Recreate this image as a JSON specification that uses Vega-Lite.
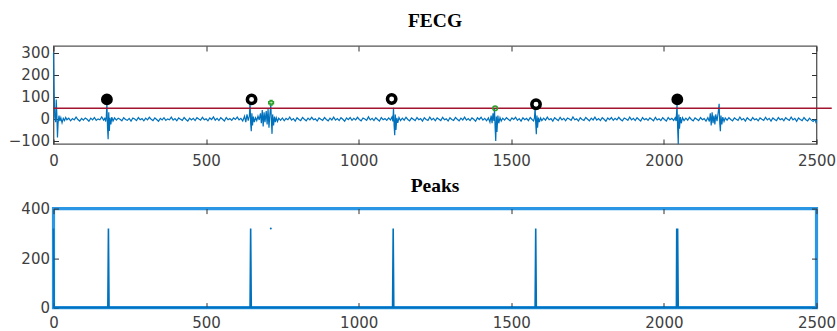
{
"$schema": "https://vega.github.io/schema/vega-lite/v6.json",
"background": "white",
"padding": {"left": 7.5, "top": 10, "right": 2, "bottom": 2},
"config": {
  "font": "DejaVu Sans",
  "axis": {"labelFont": "DejaVu Sans", "labelFontSize": 15, "labelColor": "#404040", "tickColor": "#303030", "tickSize": 5, "offset": -5, "tickWidth": 1, "domain": false, "grid": false, "title": null, "labelPadding": 4, "format": "d", "labelFlush": false},
  "title": {"font": "Liberation Serif", "fontSize": 19.5, "fontWeight": "bold", "color": "#000000", "frame": "group", "anchor": "middle"}
},
"datasets": {
  "fecg": [
{"t":0,"v":300},{"t":2,"v":120},{"t":4,"v":10},{"t":7,"v":-15},{"t":9,"v":88},{"t":11,"v":20},{"t":13,"v":-85},{"t":15,"v":-20},{"t":18,"v":15},{"t":21,"v":-10},{"t":24,"v":5},{"t":28,"v":-18},{"t":32,"v":2},{"t":36,"v":-8},{"t":40,"v":6},
{"t":44,"v":-4},{"t":50,"v":3},{"t":56,"v":-9},{"t":62,"v":1},{"t":68,"v":-5},{"t":74,"v":8},{"t":80,"v":-3},{"t":86,"v":-10},{"t":92,"v":2},{"t":98,"v":-6},{"t":104,"v":4},{"t":110,"v":-2},{"t":116,"v":-11},{"t":122,"v":3},{"t":128,"v":-5},{"t":134,"v":6},{"t":140,"v":-7},{"t":146,"v":0},{"t":152,"v":-4},{"t":158,"v":9},{"t":164,"v":-6},{"t":168,"v":2},
{"t":171,"v":-12},{"t":173,"v":10},{"t":175,"v":73},{"t":177,"v":-40},{"t":179,"v":-92},{"t":181,"v":30},{"t":183,"v":-55},{"t":185,"v":5},{"t":188,"v":-25},{"t":191,"v":8},{"t":195,"v":-10},{"t":200,"v":4},
{"t":206,"v":-6},{"t":212,"v":3},{"t":218,"v":-2},{"t":224,"v":-9},{"t":230,"v":5},{"t":236,"v":-3},{"t":242,"v":-7},{"t":248,"v":2},{"t":254,"v":-10},{"t":260,"v":4},{"t":266,"v":-1},{"t":272,"v":-8},{"t":278,"v":6},{"t":284,"v":-4},{"t":290,"v":1},{"t":296,"v":-9},{"t":302,"v":3},{"t":308,"v":-5},{"t":314,"v":7},{"t":320,"v":-2},{"t":326,"v":-8},{"t":332,"v":4},{"t":338,"v":-3},{"t":344,"v":-11},{"t":350,"v":2},{"t":356,"v":-5},{"t":362,"v":5},{"t":368,"v":-7},{"t":374,"v":0},{"t":380,"v":-4},{"t":386,"v":8},{"t":392,"v":-6},{"t":398,"v":1},{"t":404,"v":-9},{"t":410,"v":4},{"t":416,"v":-2},{"t":422,"v":-7},{"t":428,"v":6},{"t":434,"v":-3},{"t":440,"v":-10},{"t":446,"v":3},{"t":452,"v":-5},{"t":458,"v":2},{"t":464,"v":-8},{"t":470,"v":5},{"t":476,"v":-1},{"t":482,"v":-6},{"t":488,"v":7},{"t":494,"v":-4},{"t":500,"v":0},{"t":506,"v":-9},{"t":512,"v":4},{"t":518,"v":-3},{"t":524,"v":9},{"t":530,"v":-6},{"t":536,"v":2},{"t":542,"v":-8},{"t":548,"v":5},{"t":554,"v":-2},{"t":560,"v":-10},{"t":566,"v":6},{"t":572,"v":-4},{"t":578,"v":1},{"t":584,"v":-7},{"t":590,"v":4},{"t":596,"v":-3},{"t":602,"v":8},{"t":608,"v":-5},{"t":614,"v":2},
{"t":620,"v":-10},{"t":626,"v":12},{"t":630,"v":-15},{"t":634,"v":20},{"t":638,"v":-8},{"t":642,"v":15},{"t":644,"v":80},{"t":646,"v":-20},{"t":648,"v":-56},{"t":650,"v":25},{"t":652,"v":-30},{"t":655,"v":10},{"t":658,"v":-15},{"t":662,"v":5},{"t":666,"v":-8},{"t":670,"v":12},{"t":674,"v":-5},{"t":678,"v":25},{"t":681,"v":-20},{"t":684,"v":40},{"t":687,"v":-35},{"t":690,"v":30},{"t":693,"v":-15},{"t":697,"v":35},{"t":700,"v":-25},{"t":703,"v":45},{"t":706,"v":-40},{"t":709,"v":20},{"t":712,"v":65},{"t":714,"v":-10},{"t":716,"v":-68},{"t":718,"v":20},{"t":721,"v":-30},{"t":724,"v":10},{"t":727,"v":-15},{"t":730,"v":5},{"t":734,"v":-12},{"t":738,"v":3},
{"t":744,"v":-7},{"t":750,"v":4},{"t":756,"v":-9},{"t":762,"v":2},{"t":768,"v":-4},{"t":774,"v":8},{"t":780,"v":-6},{"t":786,"v":1},{"t":792,"v":-10},{"t":798,"v":5},{"t":804,"v":-3},{"t":810,"v":-8},{"t":816,"v":6},{"t":822,"v":-2},{"t":828,"v":-9},{"t":834,"v":3},{"t":840,"v":-5},{"t":846,"v":7},{"t":852,"v":-4},{"t":858,"v":0},{"t":864,"v":-10},{"t":870,"v":4},{"t":876,"v":-2},{"t":882,"v":-7},{"t":888,"v":6},{"t":894,"v":-3},{"t":900,"v":-9},{"t":906,"v":3},{"t":912,"v":-5},{"t":918,"v":8},{"t":924,"v":-6},{"t":930,"v":1},{"t":936,"v":-8},{"t":942,"v":5},{"t":948,"v":-2},{"t":954,"v":-11},{"t":960,"v":4},{"t":966,"v":-4},{"t":972,"v":6},{"t":978,"v":-7},{"t":984,"v":2},{"t":990,"v":-5},{"t":996,"v":7},{"t":1002,"v":-3},{"t":1008,"v":-9},{"t":1014,"v":4},{"t":1020,"v":-1},{"t":1026,"v":-7},{"t":1032,"v":9},{"t":1038,"v":-5},{"t":1044,"v":2},{"t":1050,"v":-8},{"t":1056,"v":5},{"t":1062,"v":-3},{"t":1068,"v":-10},{"t":1074,"v":6},{"t":1080,"v":-4},{"t":1086,"v":1},{"t":1092,"v":-7},{"t":1098,"v":4},{"t":1104,"v":-5},{"t":1109,"v":8},
{"t":1112,"v":-12},{"t":1114,"v":50},{"t":1116,"v":-30},{"t":1118,"v":-74},{"t":1120,"v":20},{"t":1122,"v":-50},{"t":1125,"v":5},{"t":1128,"v":-18},{"t":1132,"v":6},{"t":1137,"v":-8},
{"t":1143,"v":3},{"t":1149,"v":-6},{"t":1155,"v":7},{"t":1161,"v":-3},{"t":1167,"v":-9},{"t":1173,"v":4},{"t":1179,"v":-2},{"t":1185,"v":-8},{"t":1191,"v":6},{"t":1197,"v":-4},{"t":1203,"v":1},{"t":1209,"v":-10},{"t":1215,"v":5},{"t":1221,"v":-3},{"t":1227,"v":-7},{"t":1233,"v":8},{"t":1239,"v":-5},{"t":1245,"v":2},{"t":1251,"v":-9},{"t":1257,"v":4},{"t":1263,"v":-2},{"t":1269,"v":-8},{"t":1275,"v":7},{"t":1281,"v":-4},{"t":1287,"v":0},{"t":1293,"v":-10},{"t":1299,"v":5},{"t":1305,"v":-3},{"t":1311,"v":-7},{"t":1317,"v":6},{"t":1323,"v":-2},{"t":1329,"v":-9},{"t":1335,"v":3},{"t":1341,"v":-5},{"t":1347,"v":8},{"t":1353,"v":-6},{"t":1359,"v":1},{"t":1365,"v":-8},{"t":1371,"v":4},{"t":1377,"v":-2},{"t":1383,"v":-11},{"t":1389,"v":5},{"t":1395,"v":-3},{"t":1401,"v":7},{"t":1407,"v":-6},{"t":1413,"v":2},{"t":1419,"v":-9},{"t":1425,"v":4},
{"t":1430,"v":-15},{"t":1434,"v":15},{"t":1437,"v":-20},{"t":1440,"v":25},{"t":1443,"v":-10},{"t":1445,"v":45},{"t":1447,"v":-40},{"t":1449,"v":-100},{"t":1451,"v":10},{"t":1453,"v":-60},{"t":1456,"v":15},{"t":1459,"v":-20},{"t":1463,"v":5},{"t":1467,"v":-10},{"t":1472,"v":3},
{"t":1478,"v":-6},{"t":1484,"v":5},{"t":1490,"v":-2},{"t":1496,"v":-9},{"t":1502,"v":4},{"t":1508,"v":-3},{"t":1514,"v":7},{"t":1520,"v":-7},{"t":1526,"v":1},{"t":1532,"v":-10},{"t":1538,"v":5},{"t":1544,"v":-4},{"t":1550,"v":2},{"t":1556,"v":-8},{"t":1562,"v":6},{"t":1568,"v":-3},{"t":1573,"v":-9},
{"t":1576,"v":5},{"t":1578,"v":52},{"t":1580,"v":-20},{"t":1582,"v":-70},{"t":1584,"v":15},{"t":1586,"v":-40},{"t":1589,"v":6},{"t":1592,"v":-15},{"t":1596,"v":4},{"t":1600,"v":-8},
{"t":1606,"v":3},{"t":1612,"v":-6},{"t":1618,"v":8},{"t":1624,"v":-4},{"t":1630,"v":1},{"t":1636,"v":-10},{"t":1642,"v":5},{"t":1648,"v":-2},{"t":1654,"v":-8},{"t":1660,"v":7},{"t":1666,"v":-5},{"t":1672,"v":2},{"t":1678,"v":-9},{"t":1684,"v":4},{"t":1690,"v":-1},{"t":1696,"v":-7},{"t":1702,"v":9},{"t":1708,"v":-4},{"t":1714,"v":0},{"t":1720,"v":-10},{"t":1726,"v":5},{"t":1732,"v":-3},{"t":1738,"v":-7},{"t":1744,"v":6},{"t":1750,"v":-2},{"t":1756,"v":-9},{"t":1762,"v":3},{"t":1768,"v":-5},{"t":1774,"v":8},{"t":1780,"v":-6},{"t":1786,"v":1},{"t":1792,"v":-8},{"t":1798,"v":5},{"t":1804,"v":-2},{"t":1810,"v":-11},{"t":1816,"v":4},{"t":1822,"v":-4},{"t":1828,"v":6},{"t":1834,"v":-7},{"t":1840,"v":2},{"t":1846,"v":-5},{"t":1852,"v":7},{"t":1858,"v":-3},{"t":1864,"v":-9},{"t":1870,"v":4},{"t":1876,"v":-1},{"t":1882,"v":-7},{"t":1888,"v":8},{"t":1894,"v":-5},{"t":1900,"v":2},{"t":1906,"v":-8},{"t":1912,"v":5},{"t":1918,"v":-3},{"t":1924,"v":-10},{"t":1930,"v":6},{"t":1936,"v":-4},{"t":1942,"v":1},{"t":1948,"v":-7},{"t":1954,"v":4},{"t":1960,"v":-2},{"t":1966,"v":-9},{"t":1972,"v":7},{"t":1978,"v":-5},{"t":1984,"v":0},{"t":1990,"v":-8},{"t":1996,"v":5},{"t":2002,"v":-3},{"t":2008,"v":-10},{"t":2014,"v":6},{"t":2020,"v":-4},{"t":2026,"v":2},{"t":2032,"v":-7},{"t":2037,"v":5},
{"t":2040,"v":-10},{"t":2043,"v":65},{"t":2045,"v":-40},{"t":2047,"v":-115},{"t":2049,"v":20},{"t":2051,"v":-45},{"t":2054,"v":8},{"t":2057,"v":-20},{"t":2061,"v":5},{"t":2066,"v":-8},
{"t":2072,"v":3},{"t":2078,"v":-6},{"t":2084,"v":7},{"t":2090,"v":-3},{"t":2096,"v":-9},{"t":2102,"v":4},{"t":2108,"v":-2},{"t":2114,"v":-8},{"t":2120,"v":6},{"t":2126,"v":-4},{"t":2132,"v":1},{"t":2138,"v":-10},{"t":2144,"v":5},
{"t":2149,"v":-12},{"t":2152,"v":25},{"t":2155,"v":-30},{"t":2158,"v":30},{"t":2161,"v":-20},{"t":2164,"v":15},{"t":2167,"v":-25},{"t":2170,"v":20},{"t":2174,"v":-10},{"t":2178,"v":30},{"t":2181,"v":68},{"t":2183,"v":-20},{"t":2185,"v":-56},{"t":2187,"v":15},{"t":2190,"v":-25},{"t":2193,"v":8},{"t":2197,"v":-12},{"t":2201,"v":4},
{"t":2207,"v":-6},{"t":2213,"v":5},{"t":2219,"v":-3},{"t":2225,"v":-9},{"t":2231,"v":4},{"t":2237,"v":-2},{"t":2243,"v":-7},{"t":2249,"v":8},{"t":2255,"v":-5},{"t":2261,"v":1},{"t":2267,"v":-10},{"t":2273,"v":5},{"t":2279,"v":-3},{"t":2285,"v":-8},{"t":2291,"v":6},{"t":2297,"v":-4},{"t":2303,"v":0},{"t":2309,"v":-9},{"t":2315,"v":4},{"t":2321,"v":-2},{"t":2327,"v":-7},{"t":2333,"v":7},{"t":2339,"v":-5},{"t":2345,"v":2},{"t":2351,"v":-10},{"t":2357,"v":4},{"t":2363,"v":-3},{"t":2369,"v":-8},{"t":2375,"v":6},{"t":2381,"v":-4},{"t":2387,"v":1},{"t":2393,"v":-9},{"t":2399,"v":5},{"t":2405,"v":-2},{"t":2411,"v":-7},{"t":2417,"v":8},{"t":2423,"v":-5},{"t":2429,"v":2},{"t":2435,"v":-11},{"t":2441,"v":4},{"t":2447,"v":-3},{"t":2453,"v":-8},{"t":2459,"v":6},{"t":2465,"v":-4},{"t":2471,"v":-9},{"t":2477,"v":3},{"t":2483,"v":-6},{"t":2489,"v":-12},{"t":2494,"v":-4},{"t":2497,"v":-10},{"t":2499,"v":-20},{"t":2500,"v":-5}
  ],
  "threshold": [{"t0": 0, "t1": 2550, "v": 48}],
  "detected": [
    {"t": 175, "v": 88, "kind": "strong"},
    {"t": 649, "v": 88, "kind": "weak"},
    {"t": 1108, "v": 90, "kind": "weak"},
    {"t": 1581, "v": 66, "kind": "weak"},
    {"t": 2044, "v": 88, "kind": "strong"}
  ],
  "candidates": [
    {"t": 713, "v": 73, "kind": "plus"},
    {"t": 1447, "v": 48, "kind": "circle"}
  ],
  "peaks": [
    {"t": 0, "v": 320}, {"t": 2, "v": 0}, {"t": 178, "v": 0}, {"t": 180, "v": 320}, {"t": 182, "v": 0},
    {"t": 644, "v": 0}, {"t": 646, "v": 320}, {"t": 648, "v": 0},
    {"t": 1111, "v": 0}, {"t": 1113, "v": 320}, {"t": 1115, "v": 0},
    {"t": 1578, "v": 0}, {"t": 1580, "v": 320}, {"t": 1582, "v": 0},
    {"t": 2041, "v": 0}, {"t": 2042, "v": 320}, {"t": 2044, "v": 0}, {"t": 2045, "v": 320}, {"t": 2047, "v": 0},
    {"t": 2500, "v": 0}
  ],
  "lone": [{"t": 712, "v": 320}]
},
"bounds": "flush",
"spacing": 64.6,
"vconcat": [
  {
    "width": 763,
    "height": 98,
    "title": {"text": "FECG", "offset": 14},
    "view": {"stroke": "#555555", "strokeWidth": 1.3},
    "resolve": {"axis": {"x": "independent", "y": "independent"}},
    "layer": [
      {
        "data": {"name": "fecg"},
        "mark": {"type": "line", "color": "#0072bd", "strokeWidth": 1.2},
        "encoding": {
          "x": {"field": "t", "type": "quantitative", "scale": {"domain": [0, 2500], "nice": false, "zero": false}, "axis": {"orient": "bottom", "values": [0, 500, 1000, 1500, 2000, 2500], "labelPadding": 9.5}},
          "y": {"field": "v", "type": "quantitative", "scale": {"domain": [-114, 330], "nice": false, "zero": false}, "axis": {"orient": "left", "values": [-100, 0, 100, 200, 300]}}
        }
      },
      {
        "data": {"name": "threshold"},
        "mark": {"type": "rule", "color": "#a2142f", "strokeWidth": 1.5, "clip": false},
        "encoding": {
          "x": {"field": "t0", "type": "quantitative", "axis": {"orient": "top", "labels": false, "values": [0, 500, 1000, 1500, 2000, 2500]}},
          "x2": {"field": "t1"},
          "y": {"field": "v", "type": "quantitative", "axis": {"orient": "right", "labels": false, "values": [-100, 0, 100, 200, 300]}}
        }
      },
      {
        "data": {"name": "detected"},
        "mark": {"type": "point", "shape": "circle", "size": 70, "strokeWidth": 3.5, "stroke": "black", "filled": false, "opacity": 1},
        "encoding": {
          "x": {"field": "t", "type": "quantitative", "axis": null},
          "y": {"field": "v", "type": "quantitative", "axis": null},
          "fill": {"field": "kind", "type": "nominal", "scale": {"domain": ["strong", "weak"], "range": ["black", "white"]}, "legend": null}
        }
      },
      {
        "data": {"name": "candidates"},
        "mark": {"type": "point", "size": 22, "strokeWidth": 1.5, "color": "#2ca02c", "opacity": 1},
        "encoding": {
          "x": {"field": "t", "type": "quantitative", "axis": null},
          "y": {"field": "v", "type": "quantitative", "axis": null},
          "shape": {"field": "kind", "type": "nominal", "scale": {"domain": ["plus", "circle"], "range": ["cross", "circle"]}, "legend": null}
        }
      }
    ]
  },
  {
    "width": 763,
    "height": 99,
    "title": {"text": "Peaks", "offset": 5.5},
    "view": {"stroke": "#2b96e3", "strokeWidth": 3.2},
    "resolve": {"axis": {"x": "independent", "y": "independent"}},
    "layer": [
      {
        "data": {"name": "peaks"},
        "mark": {"type": "line", "color": "#0072bd", "strokeWidth": 1.6},
        "encoding": {
          "x": {"field": "t", "type": "quantitative", "scale": {"domain": [0, 2500], "nice": false, "zero": false}, "axis": {"orient": "bottom", "values": [0, 500, 1000, 1500, 2000, 2500], "labelPadding": 7.5}},
          "y": {"field": "v", "type": "quantitative", "scale": {"domain": [0, 400], "nice": false}, "axis": {"orient": "left", "values": [0, 200, 400]}}
        }
      },
      {
        "data": {"name": "lone"},
        "mark": {"type": "point", "filled": true, "size": 4, "color": "#0072bd", "opacity": 1},
        "encoding": {
          "x": {"field": "t", "type": "quantitative", "axis": {"orient": "top", "labels": false, "values": [0, 500, 1000, 1500, 2000, 2500]}},
          "y": {"field": "v", "type": "quantitative", "axis": {"orient": "right", "labels": false, "values": [0, 200, 400]}}
        }
      }
    ]
  }
]
}
